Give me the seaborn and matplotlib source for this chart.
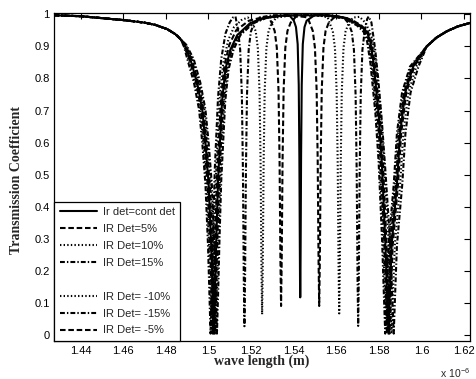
import matplotlib
matplotlib.use('Agg')
import matplotlib.pyplot as plt
from matplotlib.lines import Line2D
from matplotlib.ticker import FuncFormatter, MultipleLocator
import seaborn as sns

sns.set_style('white')
plt.rcParams['font.family'] = ['Liberation Sans', 'DejaVu Sans']
plt.rcParams['mathtext.default'] = 'regular'
plt.rcParams['lines.scale_dashes'] = False

# wavelength in micrometres (axis shows x 10^-6 m), transmission coefficient
# tails outside the stop band, common to every curve
tail_left = [(1.4275, 0.997), (1.44, 0.994), (1.45, 0.988), (1.46, 0.982),
             (1.47, 0.974), (1.475, 0.967), (1.4806, 0.954), (1.4845, 0.938),
             (1.4870, 0.922)]
tail_right = [(1.6025, 0.900), (1.607, 0.927), (1.6119, 0.947), (1.617, 0.962),
              (1.6228, 0.973)]

# Ir det = cont det
ref = [(1.4890, 0.902), (1.4916, 0.858), (1.4947, 0.787), (1.4971, 0.703), (1.4986, 0.600),
       (1.5001, 0.470), (1.5013, 0.280), (1.5020, 0.120), (1.5025, 0.005), (1.5030, 0.120),
       (1.5037, 0.300), (1.5045, 0.480), (1.5064, 0.730), (1.5080, 0.830), (1.5103, 0.890),
       (1.5135, 0.935), (1.5195, 0.972), (1.5255, 0.988), (1.5320, 0.995), (1.5380, 0.997),
       (1.5401, 0.980), (1.5411, 0.960), (1.5419, 0.907), (1.5424, 0.780), (1.5427, 0.556),
       (1.5429, 0.290), (1.5430, 0.170), (1.5431, 0.118), (1.5432, 0.170), (1.5433, 0.290),
       (1.5435, 0.556), (1.5438, 0.780), (1.5443, 0.907), (1.5451, 0.960), (1.5461, 0.980),
       (1.5500, 0.998), (1.5560, 0.997), (1.5610, 0.993), (1.5650, 0.988), (1.5713, 0.965),
       (1.5744, 0.945), (1.5760, 0.915), (1.5775, 0.850), (1.5799, 0.690), (1.5814, 0.540),
       (1.5830, 0.300), (1.5839, 0.120), (1.5845, 0.005), (1.5851, 0.120), (1.5860, 0.280),
       (1.5885, 0.470), (1.5900, 0.630), (1.5924, 0.756), (1.5961, 0.837)]

# IR Det = +5 %
p5 = [(1.4892, 0.903), (1.4921, 0.860), (1.4952, 0.787), (1.4976, 0.703), (1.4991, 0.600),
      (1.5006, 0.470), (1.5018, 0.280), (1.5025, 0.120), (1.5030, 0.005), (1.5035, 0.120),
      (1.5042, 0.300), (1.5050, 0.480), (1.5069, 0.730), (1.5085, 0.830), (1.5108, 0.890),
      (1.5140, 0.935), (1.5200, 0.972), (1.5260, 0.988), (1.5330, 0.995), (1.5410, 0.997),
      (1.5465, 0.990), (1.5475, 0.974), (1.5490, 0.948), (1.5500, 0.896), (1.5508, 0.764),
      (1.5513, 0.543), (1.5517, 0.232), (1.5520, 0.091), (1.5523, 0.232), (1.5527, 0.543),
      (1.5532, 0.764), (1.5540, 0.896), (1.5550, 0.948), (1.5565, 0.974), (1.5590, 0.990),
      (1.5640, 0.990), (1.5680, 0.980), (1.5718, 0.965), (1.5749, 0.945), (1.5765, 0.915),
      (1.5780, 0.850), (1.5804, 0.690), (1.5819, 0.540), (1.5835, 0.300), (1.5844, 0.120),
      (1.5850, 0.005), (1.5856, 0.120), (1.5865, 0.280), (1.5890, 0.470), (1.5905, 0.630),
      (1.5929, 0.756), (1.5966, 0.837)]

# IR Det = +10 %
p10 = [(1.4894, 0.904), (1.4926, 0.860), (1.4957, 0.787), (1.4981, 0.703), (1.4996, 0.600),
       (1.5011, 0.470), (1.5023, 0.280), (1.5030, 0.120), (1.5035, 0.005), (1.5040, 0.120),
       (1.5047, 0.300), (1.5055, 0.480), (1.5074, 0.730), (1.5090, 0.830), (1.5113, 0.890),
       (1.5145, 0.935), (1.5205, 0.972), (1.5265, 0.988), (1.5340, 0.995), (1.5450, 0.998),
       (1.5530, 0.995), (1.5560, 0.990), (1.5569, 0.973), (1.5584, 0.947), (1.5594, 0.894),
       (1.5602, 0.758), (1.5607, 0.530), (1.5611, 0.210), (1.5614, 0.068), (1.5617, 0.210),
       (1.5621, 0.530), (1.5626, 0.758), (1.5634, 0.894), (1.5644, 0.947), (1.5659, 0.973),
       (1.5680, 0.990), (1.5710, 0.992), (1.5735, 0.975), (1.5755, 0.950), (1.5770, 0.920),
       (1.5785, 0.860), (1.5809, 0.700), (1.5824, 0.550), (1.5845, 0.300), (1.5854, 0.120),
       (1.5860, 0.005), (1.5866, 0.120), (1.5875, 0.280), (1.5900, 0.470), (1.5915, 0.630),
       (1.5939, 0.756), (1.5976, 0.837)]

# IR Det = +15 %
p15 = [(1.4896, 0.905), (1.4931, 0.860), (1.4962, 0.787), (1.4986, 0.703), (1.5001, 0.600),
       (1.5016, 0.470), (1.5028, 0.280), (1.5035, 0.120), (1.5040, 0.005), (1.5045, 0.120),
       (1.5052, 0.300), (1.5060, 0.480), (1.5079, 0.730), (1.5095, 0.830), (1.5118, 0.890),
       (1.5150, 0.935), (1.5210, 0.972), (1.5270, 0.988), (1.5350, 0.995), (1.5480, 0.998),
       (1.5580, 0.997), (1.5635, 0.990), (1.5658, 0.972), (1.5673, 0.945), (1.5683, 0.890),
       (1.5691, 0.748), (1.5696, 0.511), (1.5700, 0.179), (1.5703, 0.029), (1.5706, 0.179),
       (1.5710, 0.511), (1.5715, 0.748), (1.5723, 0.890), (1.5733, 0.945), (1.5745, 0.985),
       (1.5752, 0.993), (1.5765, 0.975), (1.5783, 0.890), (1.5797, 0.800), (1.5815, 0.660),
       (1.5830, 0.520), (1.5852, 0.300), (1.5863, 0.120), (1.5870, 0.005), (1.5876, 0.120),
       (1.5885, 0.280), (1.5910, 0.470), (1.5925, 0.630), (1.5949, 0.756), (1.5986, 0.837)]

# IR Det = -10 %
m10 = [(1.4888, 0.900), (1.4906, 0.860), (1.4937, 0.787), (1.4961, 0.703), (1.4976, 0.600),
       (1.4991, 0.470), (1.5003, 0.280), (1.5010, 0.120), (1.5015, 0.005), (1.5020, 0.120),
       (1.5027, 0.310), (1.5035, 0.500), (1.5054, 0.750), (1.5070, 0.850), (1.5093, 0.920),
       (1.5120, 0.960), (1.5155, 0.982), (1.5185, 0.990), (1.5207, 0.973), (1.5222, 0.947),
       (1.5232, 0.894), (1.5240, 0.758), (1.5245, 0.530), (1.5249, 0.210), (1.5252, 0.065),
       (1.5255, 0.210), (1.5259, 0.530), (1.5264, 0.758), (1.5272, 0.894), (1.5282, 0.947),
       (1.5297, 0.973), (1.5320, 0.990), (1.5400, 0.997), (1.5520, 0.997), (1.5600, 0.992),
       (1.5640, 0.988), (1.5703, 0.965), (1.5734, 0.945), (1.5750, 0.915), (1.5765, 0.850),
       (1.5789, 0.690), (1.5804, 0.540), (1.5820, 0.300), (1.5829, 0.120), (1.5835, 0.005),
       (1.5841, 0.120), (1.5850, 0.280), (1.5875, 0.470), (1.5890, 0.630), (1.5914, 0.756),
       (1.5951, 0.837)]

# IR Det = -15 %
m15 = [(1.4886, 0.898), (1.4901, 0.860), (1.4932, 0.787), (1.4956, 0.703), (1.4971, 0.600),
       (1.4986, 0.470), (1.4998, 0.280), (1.5005, 0.120), (1.5010, 0.005), (1.5015, 0.130),
       (1.5022, 0.330), (1.5030, 0.520), (1.5045, 0.740), (1.5060, 0.860), (1.5080, 0.940),
       (1.5100, 0.975), (1.5115, 0.990), (1.5127, 0.993), (1.5139, 0.950), (1.5149, 0.890),
       (1.5157, 0.748), (1.5162, 0.511), (1.5166, 0.179), (1.5169, 0.028), (1.5172, 0.179),
       (1.5176, 0.511), (1.5181, 0.748), (1.5189, 0.890), (1.5199, 0.945), (1.5214, 0.972),
       (1.5240, 0.990), (1.5300, 0.997), (1.5450, 0.998), (1.5550, 0.995), (1.5635, 0.988),
       (1.5698, 0.965), (1.5729, 0.945), (1.5745, 0.915), (1.5760, 0.850), (1.5784, 0.690),
       (1.5799, 0.540), (1.5815, 0.300), (1.5824, 0.120), (1.5830, 0.005), (1.5836, 0.120),
       (1.5845, 0.280), (1.5870, 0.470), (1.5885, 0.630), (1.5909, 0.756), (1.5946, 0.837)]

# IR Det = -5 %
m5 = [(1.4889, 0.901), (1.4911, 0.860), (1.4942, 0.787), (1.4966, 0.703), (1.4981, 0.600),
      (1.4996, 0.470), (1.5008, 0.280), (1.5015, 0.120), (1.5020, 0.005), (1.5025, 0.120),
      (1.5032, 0.300), (1.5040, 0.490), (1.5059, 0.740), (1.5075, 0.840), (1.5098, 0.905),
      (1.5130, 0.950), (1.5190, 0.980), (1.5250, 0.990), (1.5285, 0.990), (1.5296, 0.974),
      (1.5311, 0.948), (1.5321, 0.896), (1.5329, 0.764), (1.5334, 0.543), (1.5338, 0.232),
      (1.5341, 0.091), (1.5344, 0.232), (1.5348, 0.543), (1.5353, 0.764), (1.5361, 0.896),
      (1.5371, 0.948), (1.5386, 0.974), (1.5410, 0.992), (1.5500, 0.997), (1.5580, 0.995),
      (1.5645, 0.988), (1.5708, 0.965), (1.5739, 0.945), (1.5755, 0.915), (1.5770, 0.850),
      (1.5794, 0.690), (1.5809, 0.540), (1.5825, 0.300), (1.5834, 0.120), (1.5840, 0.005),
      (1.5846, 0.120), (1.5855, 0.280), (1.5880, 0.470), (1.5895, 0.630), (1.5919, 0.756),
      (1.5956, 0.837)]

solid = '-'
dashed = (0, (4, 2))
dotted = (0, (1, 1.6))
dashdot = (0, (3.5, 1.5, 1, 1.5))

series = [
    (ref, solid, 'Ir det=cont det'),
    (p5, dashed, 'IR Det=5%'),
    (p10, dotted, 'IR Det=10%'),
    (p15, dashdot, 'IR Det=15%'),
    (m10, dotted, 'IR Det= -10%'),
    (m15, dashdot, 'IR Det= -15%'),
    (m5, dashed, 'IR Det= -5%'),
]

fig = plt.figure(figsize=(4.77, 3.79), dpi=100)
ax = fig.add_axes([54 / 477, 1 - 341 / 379, 416 / 477, 328 / 379])

handles, labels = [], []
for pts, ls, name in series:
    full = tail_left + pts + tail_right
    xs = [p[0] for p in full]
    ys = [p[1] for p in full]
    sns.lineplot(x=xs, y=ys, ax=ax, color='black', lw=1.5, sort=False,
                 estimator=None, legend=False)
    line = ax.get_lines()[-1]
    line.set_linestyle(ls)
    handles.append(line)
    labels.append(name)

# blank row between the positive and negative detunings
handles.insert(4, Line2D([], [], linestyle='none'))
labels.insert(4, ' ')

ax.set_xlim(1.4275, 1.6228)
ax.set_ylim(-0.018, 1.004)
ax.xaxis.set_major_locator(MultipleLocator(0.02))
ax.yaxis.set_major_locator(MultipleLocator(0.1))
ax.xaxis.set_major_formatter(FuncFormatter(lambda v, p: '%g' % round(v, 4)))
ax.yaxis.set_major_formatter(FuncFormatter(lambda v, p: '%g' % round(v, 4)))
ax.tick_params(direction='in', top=True, right=True, length=4, width=0.8,
               labelsize=8, colors='black')
ax.tick_params(axis='y', pad=3)

for s in ax.spines.values():
    s.set_visible(True)
    s.set_color('black')
    s.set_linewidth(0.9)

ax.set_xlabel('wave length (m)', family='Liberation Serif', weight='bold',
              fontsize=10, va='center')
ax.xaxis.set_label_coords(0.5, -0.063)
ax.set_ylabel('Transmission Coefficient', family='Liberation Serif', weight='bold',
              fontsize=10, va='center')
ax.yaxis.set_label_coords(-0.089, 0.49)

fig.text(470 / 477, 1 - 373 / 379, r'$\mathregular{x\ 10^{-6}}$', ha='right',
         va='center', fontsize=7.5)

leg = ax.legend(handles, labels, loc='lower left', bbox_to_anchor=(0, 0),
                borderaxespad=0, fontsize=8, handlelength=3.4, handletextpad=0.5,
                labelspacing=0.62, borderpad=0.5, fancybox=False, framealpha=1)
leg.get_frame().set_edgecolor('black')
leg.get_frame().set_linewidth(0.9)

fig.savefig('out.png', dpi=100)
